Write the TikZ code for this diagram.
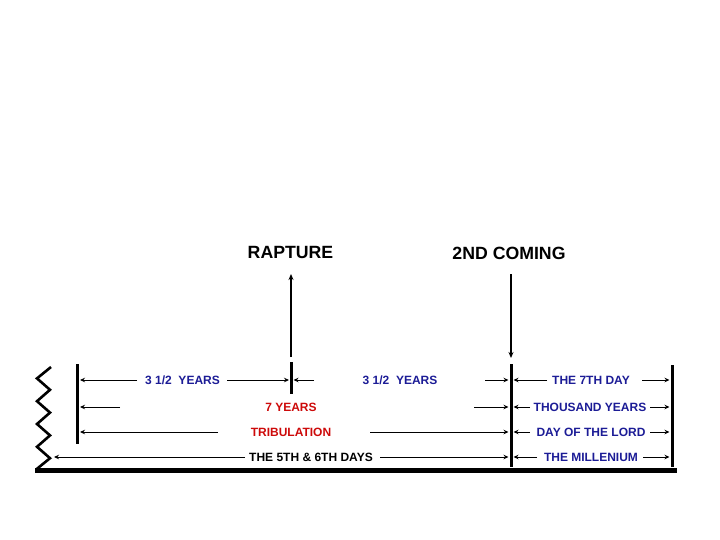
\documentclass[tikz,border=0pt]{standalone}
\usepackage{fontspec}
\setmainfont{Liberation Sans}
\usetikzlibrary{arrows.meta}
\definecolor{lblblue}{RGB}{28,28,150}
\definecolor{lblred}{RGB}{205,10,10}
\begin{document}
\begin{tikzpicture}[x=1pt,y=-1pt,
  lbl/.style={inner sep=0pt,text height=8.6pt,text depth=0pt,font=\fontsize{12}{14}\selectfont\bfseries},
  ttl/.style={inner sep=0pt,text height=12.7pt,text depth=0pt,font=\fontsize{17.7}{20}\selectfont\bfseries},
  arr/.style={line width=1pt,-{Stealth[length=5pt,width=4.5pt]}},
  bar/.style={line width=3pt},
  bigarr/.style={line width=2pt,-{Stealth[length=6pt,width=5pt]}}]
\useasboundingbox (0,0) rectangle (720,540);
% base line and zigzag
\draw[line width=5pt] (35,470.5) -- (677,470.5);
\draw[line width=2.6pt,line join=miter]
  (51,367) -- (37,378.4) -- (50,389.8) -- (37,401.2) -- (50,412.6) -- (37,424)
  -- (50,435.4) -- (37,446.8) -- (50,458.2) -- (36,469.6);
% bars
\coordinate (LB1) at (77,364); \coordinate (LB2) at (77,444);
\coordinate (RB1) at (291,362); \coordinate (RB2) at (291,394);
\coordinate (CB1) at (511,364); \coordinate (CB2) at (511,467);
\coordinate (EB1) at (672,365); \coordinate (EB2) at (672,467);
\draw[bar] (LB1) -- (LB2);
\draw[bar] (RB1) -- (RB2);
\draw[bar] (CB1) -- (CB2);
\draw[bar] (EB1) -- (EB2);
% titles
\node[ttl] (rap) at (290.5,252.5) {RAPTURE};
\node[ttl] (sc) at (509,253.5) {2ND COMING};
\coordinate (ra1) at (291,357); \coordinate (ra2) at (291,274);
\coordinate (sa1) at (511,274); \coordinate (sa2) at (511,358);
\draw[bigarr] (ra1) -- (ra2);
\draw[bigarr] (sa1) -- (sa2);
% row 1
\node[lbl,text=lblblue] (a1) at (182.5,380) {3 1/2\ \ YEARS};
\node[lbl,text=lblblue] (b1) at (400,380) {3 1/2\ \ YEARS};
\node[lbl,text=lblblue] (c1) at (591,380) {THE 7TH DAY};
% row 2
\node[lbl,text=lblred] (a2) at (291,407) {7 YEARS};
\node[lbl,text=lblblue] (c2) at (590,407) {THOUSAND YEARS};
% row 3
\node[lbl,text=lblred] (a3) at (291,432) {TRIBULATION};
\node[lbl,text=lblblue] (c3) at (591,432) {DAY OF THE LORD};
% row 4
\node[lbl] (a4) at (311,457) {THE 5TH \& 6TH DAYS};
\node[lbl,text=lblblue] (c4) at (591,457) {THE MILLENIUM};
% arrow coordinates
\coordinate (p1a) at (137,380); \coordinate (t1a) at (80,380);
\coordinate (p1b) at (227,380); \coordinate (t1b) at (289,380);
\coordinate (p1c) at (314,380); \coordinate (t1c) at (293.5,380);
\coordinate (p1d) at (485,380); \coordinate (t1d) at (508.5,380);
\coordinate (p1e) at (547,380); \coordinate (t1e) at (513.5,380);
\coordinate (p1f) at (642,380); \coordinate (t1f) at (669.5,380);
\coordinate (p2a) at (120,407); \coordinate (t2a) at (80,407);
\coordinate (p2d) at (474,407); \coordinate (t2d) at (508.5,407);
\coordinate (p2e) at (530,407); \coordinate (t2e) at (513.5,407);
\coordinate (p2f) at (650,407); \coordinate (t2f) at (669.5,407);
\coordinate (p3a) at (218,432); \coordinate (t3a) at (80,432);
\coordinate (p3d) at (370,432); \coordinate (t3d) at (508.5,432);
\coordinate (p3e) at (530,432); \coordinate (t3e) at (513.5,432);
\coordinate (p3f) at (650,432); \coordinate (t3f) at (669.5,432);
\coordinate (p4a) at (245,457); \coordinate (t4a) at (54,457);
\coordinate (p4d) at (380,457); \coordinate (t4d) at (508.5,457);
\coordinate (p4e) at (537,457); \coordinate (t4e) at (513.5,457);
\coordinate (p4f) at (643,457); \coordinate (t4f) at (669.5,457);
\foreach \r/\s in {1a,1b,1c,1d,1e,1f,2a,2d,2e,2f,3a,3d,3e,3f,4a,4d,4e,4f}
  \draw[arr] (p\r) -- (t\r);
\end{tikzpicture}
\end{document}
